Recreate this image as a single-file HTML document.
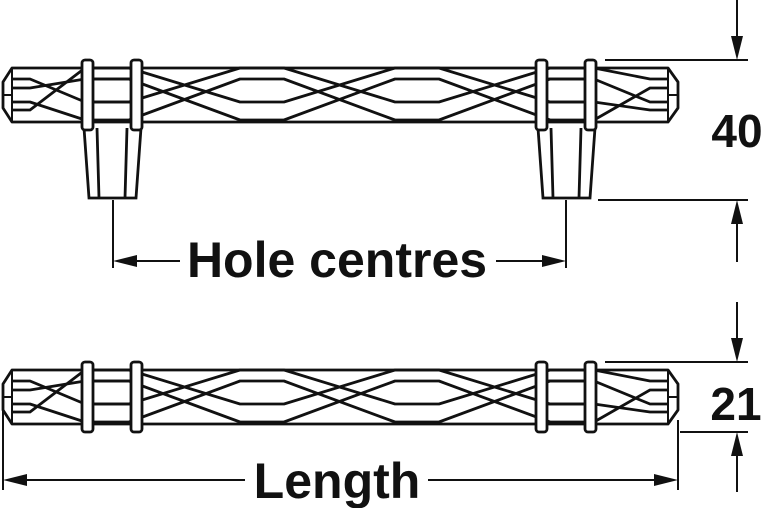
<!DOCTYPE html>
<html><head><meta charset="utf-8"><style>
html,body{margin:0;padding:0;background:#fff;width:775px;height:508px;overflow:hidden}
svg{display:block}
text{font-family:"Liberation Sans",Arial,sans-serif;font-weight:bold;fill:#111}
</style></head><body>
<svg width="775" height="508" viewBox="0 0 775 508" xmlns="http://www.w3.org/2000/svg">
<defs>
<g id="bar" fill="none" stroke="#111" stroke-width="2.8" stroke-linejoin="round">
  <rect x="3" y="68" width="675" height="54" fill="#fff" stroke="none"/>
  <g stroke-width="2.8">
  <polyline points="12,79 30,79 85,102 129,102 240,68 284,68 395,102 439,102 550,68 594,68 650,79 668,79"/>
  <polyline points="12,110 30,110 85,68 129,68 240,102 284,102 395,68 439,68 550,102 594,102 650,110 668,110"/>
  <polyline points="12,102 30,102 85,120 129,120 240,79 284,79 395,120 439,120 550,79 594,79 650,102 668,102"/>
  <polyline points="12,88 30,88 85,79 129,79 240,120 284,120 395,79 439,79 550,120 594,120 650,88 668,88"/>
  <path d="M93,79 L131,79 M93,102 L131,102 M547,79 L585,79 M547,102 L585,102"/>
  </g>
  <path d="M12,68 L668,68 L678,82 L678,108 L668,122 L12,122 L3,108 L3,82 Z"/>
  <path d="M12,68 L12,122 M668,68 L668,122 M3,95 L12,95 M668,95 L678,95" stroke-width="2"/>
  <rect x="82" y="60" width="11" height="70" rx="3" fill="#fff"/>
  <rect x="131" y="60" width="11" height="70" rx="3" fill="#fff"/>
  <rect x="536" y="60" width="11" height="70" rx="3" fill="#fff"/>
  <rect x="585" y="60" width="11" height="70" rx="3" fill="#fff"/>
</g>
</defs>
<g stroke="#111" stroke-width="2.8" fill="none">
  <path d="M84,128 L89,198 L136,198 L141,128 M97,128 L99,198 M127,128 L125,198"/>
  <path d="M538,128 L543,198 L590,198 L595,128 M551,128 L553,198 M581,128 L579,198"/>
</g>
<use href="#bar"/>
<use href="#bar" transform="translate(0,302)"/>
<g stroke="#111" stroke-width="2" fill="#111">
  <line x1="605" y1="60" x2="748" y2="60"/>
  <line x1="598" y1="200" x2="748" y2="200"/>
  <line x1="737" y1="0" x2="737" y2="40"/>
  <polygon points="731,36 743,36 737,60" stroke="none"/>
  <line x1="737" y1="222" x2="737" y2="262"/>
  <polygon points="731,224 743,224 737,200" stroke="none"/>
  <line x1="113" y1="200" x2="113" y2="268"/>
  <line x1="566" y1="200" x2="566" y2="268"/>
  <line x1="135" y1="261" x2="180" y2="261"/>
  <polygon points="113,261 137,255 137,267" stroke="none"/>
  <line x1="496" y1="261" x2="544" y2="261"/>
  <polygon points="566,261 542,255 542,267" stroke="none"/>
  <line x1="605" y1="362" x2="748" y2="362"/>
  <line x1="680" y1="432" x2="748" y2="432"/>
  <line x1="737" y1="302" x2="737" y2="342"/>
  <polygon points="731,338 743,338 737,362" stroke="none"/>
  <line x1="737" y1="454" x2="737" y2="492"/>
  <polygon points="731,456 743,456 737,432" stroke="none"/>
  <line x1="3" y1="410" x2="3" y2="490"/>
  <line x1="678" y1="420" x2="678" y2="490"/>
  <line x1="25" y1="480" x2="245" y2="480"/>
  <polygon points="3,480 27,474 27,486" stroke="none"/>
  <line x1="428" y1="480" x2="656" y2="480"/>
  <polygon points="678,480 654,474 654,486" stroke="none"/>
</g>
<text x="737" y="147" font-size="46" text-anchor="middle">40</text>
<text x="736" y="420" font-size="46" text-anchor="middle">21</text>
<text x="337" y="277" font-size="50" text-anchor="middle">Hole centres</text>
<text x="337" y="498" font-size="50" text-anchor="middle">Length</text>
</svg>
</body></html>
